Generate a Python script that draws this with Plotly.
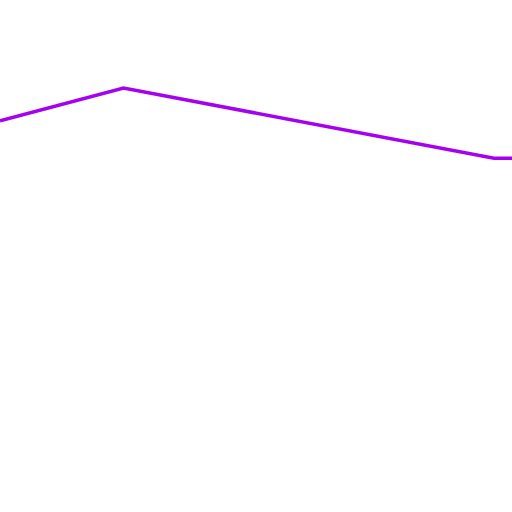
import plotly.graph_objects as go

x_vals = [0, 1, 4, 5]
y_vals = [76.4, 82.8, 69.1, 69.1]

fig = go.Figure(go.Scatter(x=x_vals, y=y_vals, mode="lines",
                           line=dict(color="#a600f0", width=3.5), showlegend=False))
fig.update_layout(width=512, height=512, margin=dict(l=0, r=0, t=0, b=0),
                  paper_bgcolor="white", plot_bgcolor="white")
fig.update_xaxes(range=[0, 512/123.5], visible=False)
fig.update_yaxes(range=[0, 100], visible=False)
fig.write_html("out.html", config={"displayModeBar": False},
               post_script="document.body.style.margin='0';document.body.style.overflow='hidden';")
